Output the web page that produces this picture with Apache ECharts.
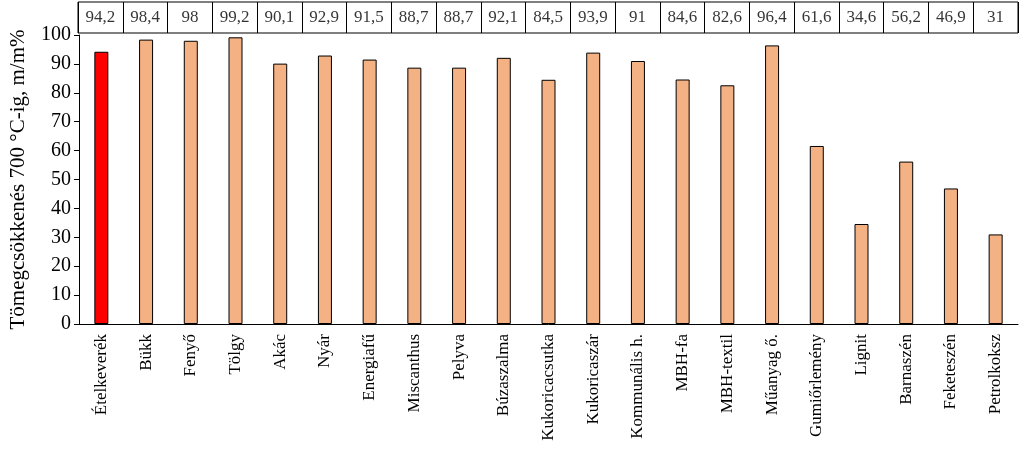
<!DOCTYPE html>
<html>
<head>
<meta charset="utf-8">
<script src="https://cdn.jsdelivr.net/npm/echarts@6/dist/echarts.min.js"></script>
<style>html,body{margin:0;background:#fff}#chart{width:1024px;height:472px}</style>
</head>
<body>
<div id="chart"></div>
<script>
var categories = ['Ételkeverék','Bükk','Fenyő','Tölgy','Akác','Nyár','Energiafű','Miscanthus','Pelyva','Búzaszalma','Kukoricacsutka','Kukoricaszár','Kommunális h.','MBH-fa','MBH-textil','Műanyag ő.','Gumiőrlemény','Lignit','Barnaszén','Feketeszén','Petrolkoksz'];
var values = [94.2,98.4,98,99.2,90.1,92.9,91.5,88.7,88.7,92.1,84.5,93.9,91,84.6,82.6,96.4,61.6,34.6,56.2,46.9,31];
var yTicks = {min: 0, max: 100, interval: 10};
var font = 'Liberation Serif';

var chart = echarts.init(document.getElementById('chart'));
chart.setOption({
    animation: false,
    textStyle: {fontFamily: font, color: '#000'},
    grid: [
        {left: 78, right: 6, top: 35, bottom: 148},
        {left: 78, right: 6, top: 2, height: 31, show: true, borderColor: '#000', borderWidth: 1}
    ],
    xAxis: [
        {type: 'category', data: categories, gridIndex: 0,
         axisLine: {lineStyle: {color: '#000'}},
         axisTick: {show: false},
         axisLabel: {rotate: 90, fontSize: 17, color: '#000', fontFamily: font, margin: 10, interval: 0}},
        {type: 'category', data: categories, gridIndex: 1,
         axisLine: {show: false}, axisTick: {show: false}, axisLabel: {show: false},
         splitLine: {show: true, interval: 0, lineStyle: {color: '#000', width: 1}}}
    ],
    yAxis: [
        {type: 'value', gridIndex: 0, min: yTicks.min, max: yTicks.max, interval: yTicks.interval,
         name: 'Tömegcsökkenés 700 °C-ig, m/m%', nameLocation: 'middle', nameGap: 50,
         nameTextStyle: {fontSize: 21, fontFamily: font, color: '#000'},
         axisLine: {show: true, lineStyle: {color: '#000'}},
         axisTick: {show: true, lineStyle: {color: '#000'}},
         axisLabel: {fontSize: 20, color: '#000', fontFamily: font},
         splitLine: {show: false}},
        {type: 'value', gridIndex: 1, min: 0, max: 1, show: false}
    ],
    series: [
        {type: 'bar', xAxisIndex: 0, yAxisIndex: 0, barWidth: 14,
         data: values.map(function (v, i) {
             return {value: v, itemStyle: {color: i === 0 ? '#FF0000' : '#F4B183'}};
         }),
         itemStyle: {borderColor: '#000', borderWidth: 1}},
        {type: 'scatter', xAxisIndex: 1, yAxisIndex: 1, symbolSize: 0,
         data: values.map(function (v, i) { return [i, 0.5]; }),
         label: {show: true, position: 'inside', fontSize: 17, color: '#000', fontFamily: font,
                 formatter: function (p) { return String(values[p.dataIndex]).replace('.', ','); }}}
    ]
});
</script>
</body>
</html>
